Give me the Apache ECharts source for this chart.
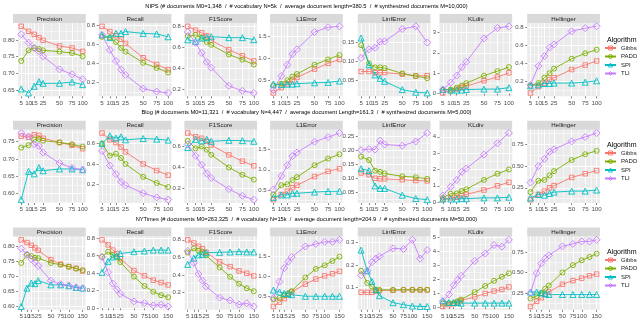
<!DOCTYPE html>
<html>
<head>
<meta charset="utf-8">
<script src="https://cdn.jsdelivr.net/npm/echarts@6/dist/echarts.min.js"></script>
<style>
  html, body { margin: 0; padding: 0; background: #fff; }
  #chart { width: 641px; height: 321px; }
</style>
</head>
<body>
<div id="chart"></div>
<script>
// algorithms and facets
const algorithms = ["Gibbs", "PADD", "SPI", "TLI"];
const metricNames = ["Precision", "Recall", "F1Score", "L1Error", "LinfError", "KLdiv", "Hellinger"];

// x values (# synthesized documents, in thousands) and x breaks
const docsShort = [5, 10, 15, 20, 25, 50, 75, 100];
const docsLong = [5, 10, 15, 20, 25, 50, 75, 100, 125, 150];
const xBreaksShort = [5, 10, 15, 25, 50, 75, 100];
const xBreaksLong = [5, 10, 15, 25, 50, 75, 100, 150];

const rowTitles = [
  "NIPS (# documents M0=1,348  /  # vocabulary N=5k  /  average document length=380.5  /  # synthesized documents M=10,000)",
  "Blog (# documents M0=11,321  /  # vocabulary N=4,447  /  average document Length=161.3  /  # synthesized documents M=5,000)",
  "NYTimes (# documents M0=263,325  /  # vocabulary N=15k  /  average document length=204.9  /  # synthesized documents M=50,000)"
];

// ---- NIPS (rows: Gibbs, PADD, SPI, TLI) ----
const nipsPrecision = [
  [0.841, 0.826, 0.817, 0.807, 0.799, 0.782, 0.776, 0.766],
  [0.737, 0.769, 0.776, 0.773, 0.769, 0.765, 0.761, 0.751],
  [0.653, 0.641, 0.661, 0.675, 0.670, 0.670, 0.674, 0.666],
  [0.817, 0.792, 0.776, 0.766, 0.751, 0.712, 0.697, 0.682]
];
const nipsRecall = [
  [0.79, 0.735, 0.69, 0.655, 0.61, 0.46, 0.39, 0.335],
  [0.68, 0.673, 0.625, 0.564, 0.524, 0.407, 0.353, 0.305],
  [0.70, 0.673, 0.716, 0.716, 0.735, 0.716, 0.71, 0.68],
  [0.70, 0.542, 0.425, 0.335, 0.28, 0.135, 0.105, 0.09]
];
const nipsF1 = [
  [0.80, 0.764, 0.738, 0.709, 0.666, 0.578, 0.519, 0.47],
  [0.706, 0.718, 0.692, 0.652, 0.623, 0.531, 0.482, 0.436],
  [0.672, 0.657, 0.687, 0.695, 0.701, 0.692, 0.692, 0.673],
  [0.745, 0.643, 0.547, 0.46, 0.406, 0.232, 0.185, 0.165]
];
const nipsL1 = [
  [0.21, 0.33, 0.42, 0.50, 0.56, 0.75, 0.88, 0.97],
  [0.38, 0.42, 0.50, 0.58, 0.64, 0.85, 0.97, 1.07],
  [0.41, 0.40, 0.41, 0.41, 0.42, 0.44, 0.45, 0.48],
  [0.28, 0.595, 0.85, 1.09, 1.2, 1.59, 1.70, 1.72]
];
const nipsLinf = [
  [0.073, 0.073, 0.070, 0.070, 0.070, 0.066, 0.061, 0.062],
  [0.143, 0.095, 0.084, 0.084, 0.082, 0.068, 0.061, 0.055],
  [0.162, 0.091, 0.064, 0.055, 0.047, 0.025, 0.018, 0.016],
  [0.109, 0.132, 0.136, 0.152, 0.153, 0.186, 0.193, 0.150]
];
const nipsKL = [
  [0.03, 0.14, 0.22, 0.31, 0.37, 0.63, 0.81, 1.02],
  [0.17, 0.20, 0.29, 0.39, 0.51, 0.88, 1.10, 1.30],
  [0.20, 0.17, 0.17, 0.17, 0.20, 0.22, 0.22, 0.29],
  [0.20, 0.54, 0.88, 1.30, 1.56, 2.71, 3.22, 3.30]
];
const nipsHellinger = [
  [0.07, 0.14, 0.18, 0.22, 0.24, 0.33, 0.38, 0.425],
  [0.15, 0.18, 0.24, 0.29, 0.34, 0.45, 0.51, 0.55],
  [0.15, 0.16, 0.175, 0.175, 0.18, 0.18, 0.19, 0.205],
  [0.16, 0.37, 0.48, 0.575, 0.61, 0.755, 0.79, 0.81]
];

// ---- Blog ----
const blogPrecision = [
  [0.765, 0.762, 0.769, 0.767, 0.759, 0.747, 0.739, 0.729],
  [0.732, 0.739, 0.755, 0.757, 0.752, 0.747, 0.742, 0.735],
  [0.583, 0.664, 0.657, 0.675, 0.666, 0.671, 0.671, 0.669],
  [0.774, 0.764, 0.742, 0.737, 0.718, 0.688, 0.674, 0.669]
];
const blogRecall = [
  [0.704, 0.637, 0.61, 0.566, 0.519, 0.40, 0.335, 0.29],
  [0.60, 0.482, 0.50, 0.459, 0.40, 0.274, 0.213, 0.173],
  [0.60, 0.677, 0.654, 0.667, 0.637, 0.65, 0.644, 0.634],
  [0.526, 0.385, 0.30, 0.224, 0.19, 0.113, 0.072, 0.049]
];
const blogF1 = [
  [0.73, 0.694, 0.68, 0.651, 0.616, 0.521, 0.461, 0.417],
  [0.655, 0.583, 0.602, 0.571, 0.522, 0.401, 0.331, 0.285],
  [0.591, 0.670, 0.655, 0.671, 0.651, 0.660, 0.657, 0.651],
  [0.622, 0.512, 0.427, 0.344, 0.30, 0.194, 0.13, 0.093]
];
const blogL1 = [
  [0.275, 0.40, 0.48, 0.565, 0.625, 0.835, 0.96, 1.025],
  [0.40, 0.625, 0.65, 0.75, 0.82, 1.11, 1.27, 1.375],
  [0.33, 0.39, 0.39, 0.43, 0.43, 0.46, 0.475, 0.48],
  [0.52, 0.85, 1.11, 1.33, 1.42, 1.68, 1.79, 1.89]
];
const blogLinf = [
  [0.119, 0.113, 0.100, 0.098, 0.098, 0.095, 0.092, 0.091],
  [0.177, 0.165, 0.127, 0.123, 0.117, 0.107, 0.104, 0.098],
  [0.134, 0.127, 0.073, 0.064, 0.064, 0.040, 0.028, 0.024],
  [0.200, 0.204, 0.202, 0.234, 0.220, 0.216, 0.231, 0.261]
];
const blogKL = [
  [0.15, 0.26, 0.30, 0.40, 0.47, 0.74, 1.00, 1.21],
  [0.26, 0.51, 0.53, 0.68, 0.79, 1.36, 1.74, 2.00],
  [0.19, 0.19, 0.19, 0.21, 0.21, 0.26, 0.26, 0.30],
  [0.40, 0.94, 1.36, 1.85, 2.06, 2.91, 3.60, 4.23]
];
const blogHellinger = [
  [0.114, 0.173, 0.212, 0.25, 0.274, 0.368, 0.41, 0.446],
  [0.20, 0.33, 0.34, 0.39, 0.44, 0.567, 0.633, 0.672],
  [0.134, 0.173, 0.165, 0.185, 0.20, 0.212, 0.212, 0.224],
  [0.31, 0.497, 0.58, 0.66, 0.69, 0.78, 0.83, 0.875]
];

// ---- NYTimes ----
const nytPrecision = [
  [0.821, 0.812, 0.803, 0.794, 0.786, 0.755, 0.74, 0.732, 0.726, 0.717],
  [0.744, 0.771, 0.767, 0.761, 0.76, 0.744, 0.738, 0.731, 0.725, 0.72],
  [0.599, 0.66, 0.677, 0.675, 0.685, 0.671, 0.671, 0.668, 0.662, 0.66],
  [0.792, 0.772, 0.757, 0.746, 0.734, 0.685, 0.673, 0.669, 0.663, 0.66]
];
const nytRecall = [
  [0.78, 0.722, 0.663, 0.624, 0.566, 0.43, 0.371, 0.32, 0.293, 0.266],
  [0.585, 0.644, 0.605, 0.585, 0.527, 0.36, 0.254, 0.188, 0.149, 0.125],
  [0.41, 0.535, 0.585, 0.597, 0.624, 0.644, 0.652, 0.663, 0.663, 0.663],
  [0.585, 0.41, 0.281, 0.215, 0.164, 0.078, 0.059, 0.032, 0.04, 0.02]
];
const nytF1 = [
  [0.80, 0.764, 0.726, 0.699, 0.658, 0.548, 0.494, 0.445, 0.418, 0.388],
  [0.655, 0.702, 0.676, 0.661, 0.622, 0.485, 0.378, 0.299, 0.247, 0.213],
  [0.52, 0.591, 0.628, 0.634, 0.653, 0.657, 0.661, 0.665, 0.662, 0.661],
  [0.673, 0.536, 0.41, 0.334, 0.268, 0.14, 0.108, 0.061, 0.075, 0.039]
];
const nytL1 = [
  [0.23, 0.34, 0.43, 0.52, 0.60, 0.80, 0.93, 1.01, 1.065, 1.126],
  [0.41, 0.447, 0.52, 0.56, 0.62, 0.97, 1.19, 1.28, 1.39, 1.50],
  [0.65, 0.60, 0.56, 0.56, 0.53, 0.49, 0.49, 0.49, 0.49, 0.49],
  [0.447, 0.865, 1.21, 1.37, 1.49, 1.76, 1.82, 1.88, 1.88, 1.93]
];
const nytLinf = [
  [0.078, 0.078, 0.078, 0.084, 0.086, 0.087, 0.089, 0.089, 0.089, 0.089],
  [0.174, 0.12, 0.104, 0.089, 0.089, 0.089, 0.089, 0.089, 0.089, 0.089],
  [0.266, 0.174, 0.127, 0.089, 0.063, 0.032, 0.023, 0.017, 0.015, 0.015],
  [0.154, 0.174, 0.212, 0.228, 0.238, 0.274, 0.271, 0.312, 0.228, 0.266]
];
const nytKL = [
  [0.05, 0.17, 0.25, 0.34, 0.47, 0.74, 0.98, 1.15, 1.27, 1.45],
  [0.25, 0.29, 0.29, 0.42, 0.54, 1.08, 1.52, 1.89, 2.18, 2.43],
  [0.47, 0.34, 0.34, 0.34, 0.29, 0.29, 0.29, 0.29, 0.29, 0.29],
  [0.42, 0.91, 1.57, 1.94, 2.25, 3.31, 3.85, 4.46, 4.34, 4.83]
];
const nytHellinger = [
  [0.083, 0.146, 0.19, 0.23, 0.26, 0.355, 0.40, 0.43, 0.46, 0.48],
  [0.18, 0.21, 0.25, 0.30, 0.34, 0.50, 0.59, 0.65, 0.69, 0.73],
  [0.26, 0.26, 0.25, 0.24, 0.23, 0.23, 0.23, 0.23, 0.23, 0.23],
  [0.25, 0.49, 0.61, 0.67, 0.71, 0.82, 0.85, 0.88, 0.88, 0.90]
];

// y tick labels per facet
const nipsTicks = [
  ["0.65", "0.70", "0.75", "0.80"], ["0.2", "0.4", "0.6", "0.8"], ["0.2", "0.4", "0.6", "0.8"],
  ["0.5", "1.0", "1.5"], ["0.05", "0.10", "0.15"], ["0", "1", "2", "3"], ["0.2", "0.4", "0.6", "0.8"]
];
const blogTicks = [
  ["0.60", "0.65", "0.70", "0.75"], ["0.2", "0.4", "0.6"], ["0.2", "0.4", "0.6"],
  ["0.5", "1.0", "1.5"], ["0.05", "0.10", "0.15", "0.20", "0.25"], ["0", "1", "2", "3", "4"], ["0.25", "0.50", "0.75"]
];
const nytTicks = [
  ["0.60", "0.65", "0.70", "0.75", "0.80"], ["0.0", "0.2", "0.4", "0.6", "0.8"], ["0.2", "0.4", "0.6", "0.8"],
  ["0.5", "1.0", "1.5"], ["0.0", "0.1", "0.2", "0.3"], ["0", "1", "2", "3", "4", "5"], ["0.25", "0.50", "0.75"]
];

const rows = [
  { docs: docsShort, xBreaks: xBreaksShort, ticks: nipsTicks,
    data: [nipsPrecision, nipsRecall, nipsF1, nipsL1, nipsLinf, nipsKL, nipsHellinger] },
  { docs: docsShort, xBreaks: xBreaksShort, ticks: blogTicks,
    data: [blogPrecision, blogRecall, blogF1, blogL1, blogLinf, blogKL, blogHellinger] },
  { docs: docsLong, xBreaks: xBreaksLong, ticks: nytTicks,
    data: [nytPrecision, nytRecall, nytF1, nytL1, nytLinf, nytKL, nytHellinger] }
];

// styling
const colors = ["#F8766D", "#7CAE00", "#00BFC4", "#C77CFF"];
const symbols = ["rect", "circle", "triangle", "diamond"];
const symbolSizes = [4.5, 5, 6, 7];
const FONT = "Liberation Sans, Arial, sans-serif";

// layout (px)
const panelLeft = 13;
const panelW = 72.7;
const colGaps = [13, 13, 13, 15, 9, 15];
const stripTops = [14, 120.7, 227.5];
const stripH = 9;
const panelH = 73.3;
const legendTops = [40, 145, 252];

const colLefts = [];
let xx = panelLeft;
for (let c = 0; c < 7; c++) {
  colLefts.push(xx);
  xx += panelW + (colGaps[c] || 0);
}

// ggplot-like expansion of 5% and minor breaks between majors
function expand(lo, hi) {
  const d = (hi - lo) * 0.05;
  return [lo - d, hi + d];
}
function minorBreaks(b, lo, hi) {
  if (b.length < 2) return [];
  const bd = b[1] - b[0];
  const ext = b.slice();
  if (lo < b[0]) ext.unshift(b[0] - bd);
  if (hi > b[b.length - 1]) ext.push(b[b.length - 1] + bd);
  const out = [];
  for (let i = 0; i < ext.length - 1; i++) out.push((ext[i] + ext[i + 1]) / 2);
  return out.filter(v => v >= lo && v <= hi);
}

const grids = [], xAxes = [], yAxes = [], series = [], graphics = [], legends = [];

rows.forEach((row, r) => {
  const sx = row.docs.map(Math.sqrt);
  const xr = expand(sx[0], sx[sx.length - 1]);
  const xMajor = row.xBreaks.map(Math.sqrt).filter(v => v >= xr[0] && v <= xr[1]);
  const xMinor = minorBreaks(xMajor, xr[0], xr[1]);

  row.data.forEach((facet, c) => {
    const gi = grids.length;
    const top = stripTops[r] + stripH;
    grids.push({
      left: colLefts[c], top: top, width: panelW, height: panelH,
      show: true, backgroundColor: "#EBEBEB", borderWidth: 0
    });

    const all = [].concat(...facet);
    const yr = expand(Math.min(...all), Math.max(...all));
    const labels = row.ticks[c];
    const yMajor = labels.map(Number).filter(v => v >= yr[0] && v <= yr[1]);
    const yMinor = minorBreaks(yMajor, yr[0], yr[1]);

    // major x axis with labels, minor x axis only for grid lines
    xAxes.push({
      gridIndex: gi, type: "value", min: xr[0], max: xr[1], position: "bottom",
      axisLine: { show: false },
      axisTick: { show: true, length: 2, lineStyle: { color: "#333", width: 0.6 }, customValues: xMajor },
      axisLabel: {
        customValues: xMajor, fontSize: 6.2, color: "#4D4D4D", fontFamily: FONT, margin: 3.5,
        formatter: v => String(Math.round(v * v))
      },
      splitLine: { show: true, lineStyle: { color: "#FFFFFF", width: 1 } }
    });
    xAxes.push({
      gridIndex: gi, type: "value", min: xr[0], max: xr[1], position: "top",
      axisLine: { show: false }, axisTick: { show: false, customValues: xMinor },
      axisLabel: { show: false },
      splitLine: { show: true, lineStyle: { color: "#FFFFFF", width: 0.5 } }
    });
    yAxes.push({
      gridIndex: gi, type: "value", min: yr[0], max: yr[1], position: "left",
      axisLine: { show: false },
      axisTick: { show: true, length: 2, lineStyle: { color: "#333", width: 0.6 }, customValues: yMajor },
      axisLabel: {
        customValues: yMajor, fontSize: 6, color: "#4D4D4D", fontFamily: FONT, margin: 3.5,
        formatter: v => {
          const hit = labels.find(t => Math.abs(Number(t) - v) < 1e-9);
          return hit !== undefined ? hit : String(v);
        }
      },
      splitLine: { show: true, lineStyle: { color: "#FFFFFF", width: 1 } }
    });
    yAxes.push({
      gridIndex: gi, type: "value", min: yr[0], max: yr[1], position: "right",
      axisLine: { show: false }, axisTick: { show: false, customValues: yMinor },
      axisLabel: { show: false },
      splitLine: { show: true, lineStyle: { color: "#FFFFFF", width: 0.5 } }
    });

    facet.forEach((vals, a) => {
      series.push({
        name: algorithms[a], type: "line",
        xAxisIndex: gi * 2, yAxisIndex: gi * 2,
        data: vals.map((v, i) => [sx[i], v]),
        color: colors[a],
        symbol: symbols[a], symbolSize: symbolSizes[a],
        showSymbol: true, showAllSymbol: true,
        lineStyle: { color: colors[a], width: 0.9 },
        itemStyle: { color: "rgba(0,0,0,0)", borderColor: colors[a], borderWidth: 0.9 },
        emphasis: { disabled: true },
        animation: false
      });
    });

    // facet strip
    graphics.push({
      type: "rect", silent: true,
      shape: { x: colLefts[c], y: stripTops[r], width: panelW, height: stripH },
      style: { fill: "#D9D9D9" }
    });
    graphics.push({
      type: "text", silent: true,
      x: colLefts[c] + panelW / 2, y: stripTops[r] + stripH / 2 + 0.3,
      style: {
        text: metricNames[c], fill: "#1A1A1A", fontSize: 6.2, fontFamily: FONT,
        align: "center", verticalAlign: "middle", textAlign: "center", textVerticalAlign: "middle"
      }
    });
  });

  // row title
  graphics.push({
    type: "text", silent: true,
    x: (colLefts[0] + colLefts[6] + panelW) / 2, y: stripTops[r] - 8,
    style: {
      text: rowTitles[r], fill: "#000", fontSize: 5.7, fontFamily: FONT,
      align: "center", verticalAlign: "middle", textAlign: "center", textVerticalAlign: "middle"
    }
  });
  // legend title
  graphics.push({
    type: "text", silent: true, x: 607, y: legendTops[r],
    style: {
      text: "Algorithm", fill: "#000", fontSize: 7, fontFamily: FONT,
      align: "left", verticalAlign: "middle", textAlign: "left", textVerticalAlign: "middle"
    }
  });
  legends.push({
    data: algorithms, orient: "vertical", left: 604, top: legendTops[r] + 5, padding: 0,
    itemWidth: 11, itemHeight: 5, itemGap: 2.5, selectedMode: false,
    itemStyle: { color: "rgba(0,0,0,0)", borderWidth: 0.9 },
    textStyle: { fontSize: 6, color: "#1A1A1A", fontFamily: FONT }
  });
});

const chart = echarts.init(document.getElementById("chart"), null, { renderer: "canvas" });
chart.setOption({
  backgroundColor: "#FFFFFF",
  animation: false,
  grid: grids,
  xAxis: xAxes,
  yAxis: yAxes,
  legend: legends,
  series: series,
  graphic: graphics
});
</script>
</body>
</html>
